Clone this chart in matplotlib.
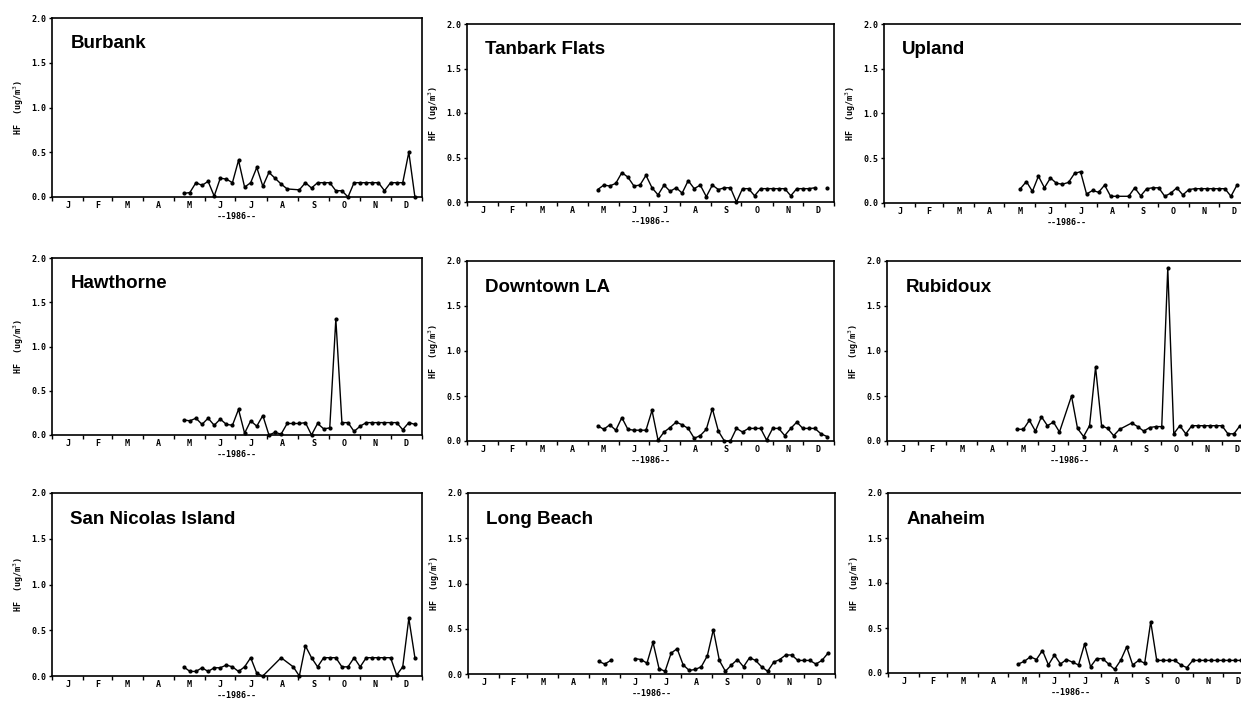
import numpy as np
import matplotlib
matplotlib.use('Agg')
from matplotlib import pyplot as plt

nan = float('nan')

# sampling schedule (day of year, 1986), one sample every 6 days
sample_day = [130, 136, 142, 148, 154, 160, 166, 172, 178, 184,
              190, 196, 202, 208, 214, 220, 226, 232, 238, 244,
              250, 256, 262, 268, 274, 280, 286, 292, 298, 304,
              310, 316, 322, 328, 334, 340, 346, 352, 358]

# HF (ug/m3); None = no point drawn (line continues), nan = line breaks
burbank = [0.04, 0.05, 0.16, 0.13, 0.175, 0.01, 0.21, 0.20, 0.16, 0.41,
           0.11, 0.16, 0.33, 0.12, 0.275, 0.21, 0.145, 0.09, None, 0.08,
           0.16, 0.10, 0.16, 0.16, 0.16, 0.07, 0.07, 0.0, 0.16, 0.16,
           0.16, 0.16, 0.16, 0.07, 0.16, 0.16, 0.16, 0.50, 0.0]
tanbark = [0.14, 0.19, 0.18, 0.21, 0.33, 0.28, 0.18, 0.19, 0.30, 0.16,
           0.08, 0.19, 0.12, 0.16, 0.10, 0.24, 0.15, 0.19, 0.06, 0.19,
           0.14, 0.16, 0.16, 0.0, 0.15, 0.15, 0.07, 0.15, 0.15, 0.15,
           0.15, 0.15, 0.07, 0.15, 0.15, 0.15, 0.16, nan, 0.16]
upland = [None, 0.16, 0.24, 0.13, 0.30, 0.17, 0.28, 0.22, 0.21, 0.23,
          0.33, 0.35, 0.10, 0.14, 0.12, 0.20, 0.075, 0.075, None, 0.075,
          0.17, 0.08, 0.16, 0.17, 0.17, 0.075, 0.11, 0.17, 0.09, 0.15,
          0.16, 0.16, 0.16, 0.16, 0.16, 0.16, 0.075, 0.20, None]
hawthorne = [0.17, 0.16, 0.19, 0.12, 0.19, 0.11, 0.18, 0.12, 0.11, 0.29,
             0.02, 0.16, 0.10, 0.22, 0.0, 0.03, 0.01, 0.13, 0.13, 0.13,
             0.14, 0.0, 0.13, 0.07, 0.08, 1.31, 0.14, 0.14, 0.04, 0.10,
             0.14, 0.14, 0.14, 0.14, 0.14, 0.14, 0.06, 0.14, 0.12]
downtown = [0.17, 0.13, 0.18, 0.12, 0.26, 0.13, 0.12, 0.12, 0.12, 0.34,
            0.01, 0.10, 0.15, 0.21, 0.18, 0.14, 0.03, 0.06, 0.13, 0.36,
            0.11, 0.0, 0.0, 0.14, 0.10, 0.14, 0.14, 0.14, 0.01, 0.14,
            0.14, 0.06, 0.14, 0.21, 0.14, 0.14, 0.14, 0.08, 0.05]
rubidoux = [0.13, 0.13, 0.23, 0.11, 0.27, 0.17, 0.21, 0.10, None, 0.50,
            0.14, 0.05, 0.17, 0.82, 0.17, 0.14, 0.06, 0.13, None, 0.20,
            0.16, 0.11, 0.15, 0.16, 0.16, 1.92, 0.08, 0.17, 0.08, 0.17,
            0.17, 0.17, 0.17, 0.17, 0.17, 0.08, 0.08, 0.17, 0.17]
san_nicolas = [0.10, 0.05, 0.05, 0.09, 0.05, 0.09, 0.09, 0.12, 0.10, 0.05,
               0.10, 0.20, 0.03, 0.0, None, None, 0.20, None, 0.10, 0.0,
               0.33, 0.20, 0.10, 0.20, 0.20, 0.20, 0.10, 0.10, 0.20, 0.10,
               0.20, 0.20, 0.20, 0.20, 0.20, 0.01, 0.10, 0.63, 0.20]
long_beach = [0.14, 0.11, 0.15, nan, nan, nan, 0.17, 0.16, 0.12, 0.35,
              0.06, 0.03, 0.23, 0.28, 0.10, 0.04, 0.05, 0.08, 0.20, 0.49,
              0.15, 0.03, 0.10, 0.16, 0.08, 0.18, 0.15, 0.08, 0.03, 0.13,
              0.16, 0.21, 0.21, 0.15, 0.15, 0.15, 0.11, 0.15, 0.23]
anaheim = [0.10, 0.13, 0.18, 0.15, 0.25, 0.09, 0.20, 0.10, 0.15, 0.12,
           0.09, 0.32, 0.07, 0.16, 0.16, 0.10, 0.04, 0.14, 0.29, 0.09,
           0.14, 0.11, 0.57, 0.14, 0.14, 0.14, 0.14, 0.09, 0.06, 0.14,
           0.14, 0.14, 0.14, 0.14, 0.14, 0.14, 0.14, 0.14, 0.10]

stations = ['Burbank', 'Tanbark Flats', 'Upland',
            'Hawthorne', 'Downtown LA', 'Rubidoux',
            'San Nicolas Island', 'Long Beach', 'Anaheim']
series = [burbank, tanbark, upland, hawthorne, downtown, rubidoux,
          san_nicolas, long_beach, anaheim]

month_labels = ['J', 'F', 'M', 'A', 'M', 'J', 'J', 'A', 'S', 'O', 'N', 'D']
month_edges = [0, 31, 59, 90, 120, 151, 181, 212, 243, 273, 304, 334, 365]
yticks = [0.0, 0.5, 1.0, 1.5, 2.0]

# panel boxes in pixels: left, top, right, bottom
W, H = 1241, 703
boxes = [(52, 18, 422, 197), (467, 24, 834, 202), (884, 24, 1250, 203),
         (52, 258, 422, 435), (467, 261, 834, 441), (887, 261, 1253, 441),
         (52, 493, 422, 676), (468, 493, 835, 674), (888, 493, 1254, 673)]

mono = {'family': 'DejaVu Sans Mono', 'size': 6, 'weight': 'bold'}

fig = plt.figure(figsize=(W / 100, H / 100), dpi=100)

for name, vals, (l, t, r, b) in zip(stations, series, boxes):
    ax = fig.add_axes([l / W, 1 - b / H, (r - l) / W, (b - t) / H])
    xs = [d for d, v in zip(sample_day, vals) if v is not None]
    ys = [v for v in vals if v is not None]
    ax.plot(xs, ys, '-', color='black', lw=1.0, marker='o', ms=2.0, clip_on=False)

    ax.set_xlim(0, 365)
    ax.set_ylim(0, 2.0)
    ax.set_xticks(month_edges)
    ax.set_xticklabels([])
    mids = [(a + c) / 2 for a, c in zip(month_edges[:-1], month_edges[1:])]
    ax.set_xticks(mids, minor=True)
    ax.set_xticklabels(month_labels, minor=True, fontdict=mono)
    ax.tick_params(axis='x', which='major', direction='out', length=3, width=1)
    ax.tick_params(axis='x', which='minor', length=0, pad=3)
    ax.set_yticks(yticks)
    ax.set_yticklabels(['%.1f' % v for v in yticks], fontdict=mono)
    ax.tick_params(axis='y', direction='out', length=2, width=1, pad=2)

    for s in ax.spines.values():
        s.set_linewidth(1.2)

    ax.set_xlabel('--1986--', fontdict=mono, labelpad=1)
    ax.set_ylabel('HF  (ug/m$^3$)', fontdict=mono, labelpad=4)
    ax.text(0.05, 0.855, name, transform=ax.transAxes, fontsize=13.5,
            fontweight='bold', family='Liberation Sans', va='center')

fig.savefig('out.png', dpi=100)
